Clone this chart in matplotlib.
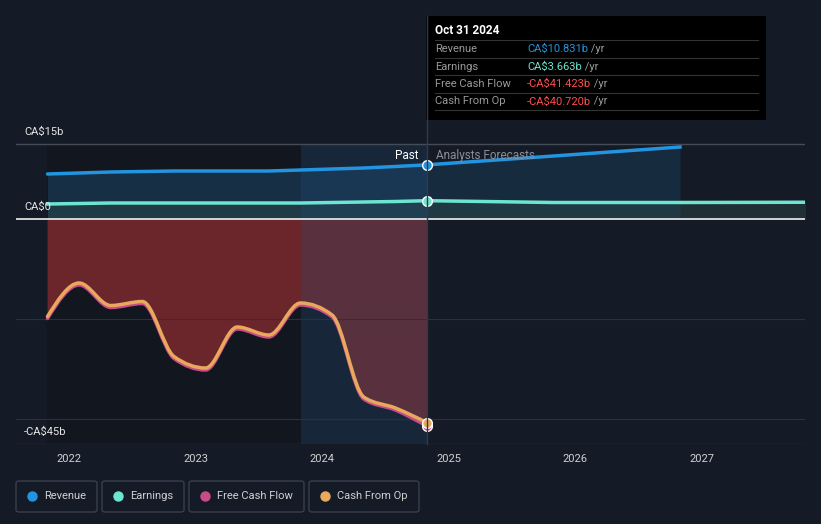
import matplotlib
matplotlib.use("Agg")
import matplotlib.pyplot as plt
import matplotlib.patches as mpatches
from matplotlib.lines import Line2D
from matplotlib.path import Path

plt.rcParams['font.family'] = ['Roboto', 'DejaVu Sans']

# quarterly history (fractional years), values in CA$ billions
past_x = [2021.83, 2022.08, 2022.33, 2022.58, 2022.83, 2023.08, 2023.33,
          2023.58, 2023.83, 2024.08, 2024.33, 2024.58, 2024.83]
revenue = [9.0, 9.2, 9.4, 9.5, 9.6, 9.6, 9.6, 9.6, 9.8, 10.0, 10.2, 10.5, 10.831]
earnings = [3.0, 3.1, 3.2, 3.2, 3.2, 3.2, 3.2, 3.2, 3.2, 3.3, 3.4, 3.5, 3.663]
fcf = [-19.9, -13.2, -17.7, -16.9, -27.9, -30.2, -22.0, -23.6, -17.2,
       -19.6, -36.0, -38.2, -41.423]
cfo = [-19.5, -12.8, -17.3, -16.5, -27.5, -29.8, -21.6, -23.2, -16.8,
       -19.2, -35.6, -37.8, -40.720]

# analyst forecasts
rev_fc_x = [2024.83, 2025.83, 2026.83]
rev_fc = [10.831, 12.6, 14.4]
earn_fc_x = [2024.83, 2025.83, 2026.83, 2027.83]
earn_fc = [3.663, 3.3, 3.3, 3.35]

years = [2022, 2023, 2024, 2025, 2026, 2027]

bg = '#151b26'
c_rev = '#2394df'
c_earn = '#6ce5d1'
c_fcf = '#c94b8a'
c_cfo = '#e8a95c'


def sgn(v):
    return (v > 0) - (v < 0)


def smooth_path(xs, ys):
    # monotone-x cubic bezier through the points (like d3 curveMonotoneX)
    n = len(xs)
    h = [xs[i+1] - xs[i] for i in range(n-1)]
    s = [(ys[i+1] - ys[i]) / h[i] for i in range(n-1)]
    t = [0.0] * n
    for i in range(1, n-1):
        p = (s[i-1] * h[i] + s[i] * h[i-1]) / (h[i-1] + h[i])
        t[i] = (sgn(s[i-1]) + sgn(s[i])) * min(abs(s[i-1]), abs(s[i]), 0.5 * abs(p))
    t[0] = (3 * s[0] - t[1]) / 2
    t[-1] = (3 * s[-1] - t[-2]) / 2
    verts = [(xs[0], ys[0])]
    codes = [Path.MOVETO]
    for i in range(n-1):
        d = h[i] / 3
        verts += [(xs[i] + d, ys[i] + d * t[i]), (xs[i+1] - d, ys[i+1] - d * t[i+1]),
                  (xs[i+1], ys[i+1])]
        codes += [Path.CURVE4] * 3
    return verts, codes


fig = plt.figure(figsize=(8.21, 5.24), dpi=100, facecolor=bg)
ax = fig.add_axes([16/821, 80/524, 789/821, 324/524])
ax.set_facecolor(bg)
ax.set_xlim(2021.581, 2027.818)
ax.set_ylim(-45, 19.8)

# past background band
ax.axvspan(2021.83, 2023.83, ymin=0, ymax=60/64.8, color='#0f131b', alpha=0.55, lw=0)

# area fills
ax.fill_between(past_x, revenue, 0, color='#1c4466', alpha=0.55, lw=0)
ax.fill_between(rev_fc_x, rev_fc, 0, color='#1c4466', alpha=0.4, lw=0)
ax.fill_between(past_x, earnings, 0, color='#2c4848', alpha=0.5, lw=0)
ax.fill_between(earn_fc_x, earn_fc, 0, color='#2c4848', alpha=0.45, lw=0)
v, c = smooth_path(past_x, cfo)
v = v + [(past_x[-1], 0), (past_x[0], 0), v[0]]
c = c + [Path.LINETO, Path.LINETO, Path.CLOSEPOLY]
ax.add_patch(mpatches.PathPatch(Path(v, c), facecolor='#8a2c30', alpha=0.75, lw=0))

# last year band on top of fills
ax.axvspan(2023.83, 2024.83, ymin=0, ymax=60/64.8, color='#1f4a70', alpha=0.26, lw=0)

# grid
ax.axhline(15, color='#464c56', lw=1)
ax.axhline(0, color='#f0f0f0', lw=1.2)
for g in [-20, -40]:
    ax.axhline(g, color='#2b313b', lw=0.8)
ax.axhline(-45, color='#2b313b', lw=1)

# lines
ax.plot(past_x, revenue, color=c_rev, lw=2.5, solid_capstyle='round')
ax.plot(rev_fc_x, rev_fc, color=c_rev, lw=2.5)
ax.plot(past_x, earnings, color=c_earn, lw=2.5)
ax.plot(earn_fc_x, earn_fc, color=c_earn, lw=2.5)
for series, col in [(fcf, c_fcf), (cfo, c_cfo)]:
    v, c = smooth_path(past_x, series)
    ax.add_patch(mpatches.PathPatch(Path(v, c), facecolor='none', edgecolor=col,
                                    lw=2.5, capstyle='round', zorder=3))

for val, col in [(revenue[-1], c_rev), (earnings[-1], c_earn),
                 (fcf[-1], c_fcf), (cfo[-1], c_cfo)]:
    ax.plot([past_x[-1]], [val], 'o', ms=7, mfc=col, mec='white', mew=1, zorder=5)

ax.text(2024.76, 12.6, 'Past', color='white', fontsize=8.5, ha='right', va='center')
ax.text(2024.9, 12.6, 'Analysts Forecasts', color='#8a8f96', fontsize=8.5,
        ha='left', va='center')

ax.text(0.01, 17.4, 'CA$15b', color='#e6e6e6', fontsize=8, va='center',
        transform=ax.get_yaxis_transform())
ax.text(0.01, 2.4, 'CA$0', color='#e6e6e6', fontsize=8, va='center',
        transform=ax.get_yaxis_transform())
ax.text(0.01, -42.5, '-CA$45b', color='#e6e6e6', fontsize=8, va='center',
        transform=ax.get_yaxis_transform())

ax.set_xticks(years)
ax.set_xticklabels([str(y) for y in years], color='#d0d0d0', fontsize=8)
ax.tick_params(axis='x', length=0, pad=7)
ax.set_yticks([])
for s in ax.spines.values():
    s.set_visible(False)

# vertical marker line
fig.add_artist(Line2D([427/821, 427/821], [80/524, 508/524], color='#2f3b4a', lw=1))

# tooltip
fig.add_artist(mpatches.Rectangle((426/821, 404/524), 340/821, 104/524,
                                  facecolor='black', edgecolor='none'))
fig.text(435/821, 1 - 31/524, 'Oct 31 2024', color='white', fontsize=8.5,
         fontweight='bold', va='center')
rows = [('Revenue', 'CA$10.831b', c_rev), ('Earnings', 'CA$3.663b', c_earn),
        ('Free Cash Flow', '-CA$41.423b', '#ff4d4d'),
        ('Cash From Op', '-CA$40.720b', '#ff4d4d')]
for i, (lab, val, col) in enumerate(rows):
    yy = 49 + i * 17.5
    fig.add_artist(Line2D([435/821, 758/821], [1 - (yy - 9)/524] * 2,
                          color='#333333', lw=0.8))
    fig.text(435/821, 1 - yy/524, lab, color='#9a9a9a', fontsize=8, va='center')
    t = fig.text(527/821, 1 - yy/524, val, color=col, fontsize=8, va='center')
    fig.add_artist(plt.Annotation(' /yr', xy=(1, 0.5), xycoords=t, va='center',
                                  color='#9a9a9a', fontsize=8))
fig.add_artist(Line2D([435/821, 758/821], [1 - 110/524] * 2, color='#333333', lw=0.8))

# legend
items = [('Revenue', c_rev, 16, 97), ('Earnings', c_earn, 102, 184),
         ('Free Cash Flow', c_fcf, 189, 304), ('Cash From Op', c_cfo, 309, 419)]
for lab, col, x0, x1 in items:
    fig.add_artist(mpatches.FancyBboxPatch((x0/821, 1 - 512/524), (x1 - x0)/821, 31/524,
                                           boxstyle='round,pad=0,rounding_size=0.004',
                                           facecolor='none', edgecolor='#3a404a', lw=1))
    fig.add_artist(Line2D([(x0 + 16)/821], [1 - 496/524], marker='o', ms=6.5,
                          color=col, lw=0))
    fig.text((x0 + 28)/821, 1 - 496/524, lab, color='#d0d0d0', fontsize=8, va='center')

fig.savefig('out.png', dpi=100, facecolor=bg)
